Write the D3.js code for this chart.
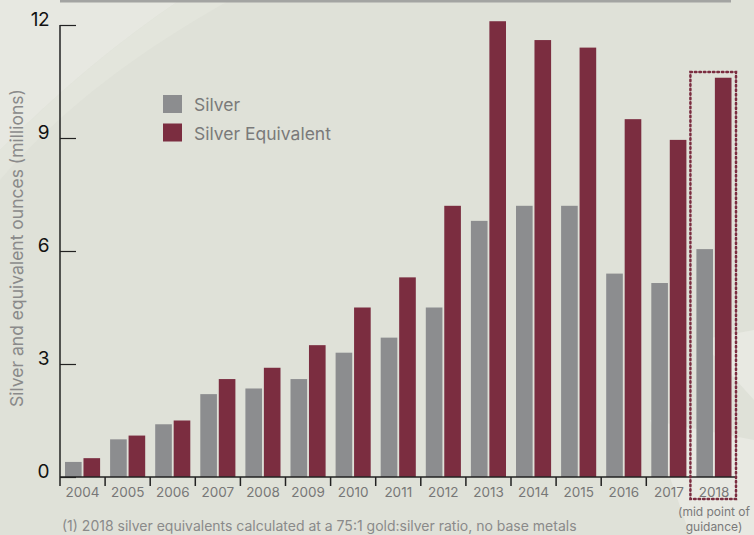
<!DOCTYPE html>
<html>
<head>
<meta charset="utf-8">
<script src="https://cdn.jsdelivr.net/npm/d3@7"></script>
<style>
  body { margin: 0; background: #dfe1d8; }
  svg { display: block; font-family: Inter, "Noto Sans", sans-serif; }
</style>
</head>
<body>
<div id="chart"></div>
<script>
// Chart data
var years = ["2004", "2005", "2006", "2007", "2008", "2009", "2010", "2011",
             "2012", "2013", "2014", "2015", "2016", "2017", "2018"];
var silver = [0.4, 1.0, 1.4, 2.2, 2.35, 2.6, 3.3, 3.7, 4.5, 6.8, 7.2, 7.2, 5.4, 5.15, 6.05];
var silverEq = [0.5, 1.1, 1.5, 2.6, 2.9, 3.5, 4.5, 5.3, 7.2, 12.1, 11.6, 11.4, 9.5, 8.95, 10.6];
var seriesNames = ["Silver", "Silver Equivalent"];
var yTicks = [0, 3, 6, 9, 12];

var width = 754, height = 535;
var colors = { "Silver": "#8c8d8f", "Silver Equivalent": "#7b2d40" };

var svg = d3.select("#chart").append("svg")
    .attr("width", width)
    .attr("height", height);

// Background with soft lighter shapes
svg.append("rect").attr("width", width).attr("height", height).attr("fill", "#dfe1d8");
svg.append("path")
    .attr("d", "M0,0 L180,0 C120,40 60,90 0,150 Z")
    .attr("fill", "#e7e8e1");
svg.append("path")
    .attr("d", "M0,150 C60,90 120,40 180,0 L230,0 C140,50 60,110 0,180 Z")
    .attr("fill", "#e3e5dc");
svg.append("path")
    .attr("d", "M754,330 L700,340 L754,400 Z M650,420 L754,440 L754,535 L690,535 Z")
    .attr("fill", "#e8e9e2");

// Top rule
svg.append("line")
    .attr("x1", 60).attr("x2", 731)
    .attr("y1", 1).attr("y2", 1)
    .attr("stroke", "#a3a4a2").attr("stroke-width", 3);

var x = d3.scaleBand().domain(years).range([60, 736.5]).padding(0);
var xs = d3.scaleBand().domain(seriesNames).range([5, x.bandwidth() - 5]).paddingInner(0.1);
var y = d3.scaleLinear().domain([0, 12]).range([477, 25]);

// Bars
var groups = svg.selectAll(".year")
    .data(years)
    .join("g")
    .attr("class", "year")
    .attr("transform", d => "translate(" + x(d) + ",0)");

groups.selectAll("rect")
    .data((d, i) => [
        { name: "Silver", value: silver[i] },
        { name: "Silver Equivalent", value: silverEq[i] }
    ])
    .join("rect")
    .attr("x", d => xs(d.name))
    .attr("width", xs.bandwidth())
    .attr("y", d => y(d.value))
    .attr("height", d => y(0) - y(d.value))
    .attr("fill", d => colors[d.name]);

// Y axis
var yAxis = svg.append("g").attr("transform", "translate(60,0)")
    .call(d3.axisRight(y).tickValues(yTicks).tickSize(16).tickFormat(""));
yAxis.select(".domain").attr("d", "M0," + y(12) + "V" + (y(0) + 9)).attr("stroke", "#222").attr("stroke-width", 1.5);
yAxis.selectAll(".tick line").attr("stroke", "#222").attr("stroke-width", 1.2);

svg.selectAll(".ylab")
    .data(yTicks)
    .join("text")
    .attr("class", "ylab")
    .attr("x", 49)
    .attr("y", d => y(d) + 1)
    .attr("text-anchor", "end")
    .attr("font-size", 19)
    .attr("letter-spacing", -0.5)
    .attr("fill", "#111")
    .text(d => d);

// X axis
var xAxis = svg.append("g").attr("transform", "translate(0," + y(0) + ")")
    .call(d3.axisBottom(x).tickSize(0).tickPadding(10));
xAxis.select(".domain").attr("d", "M60,0H736").attr("stroke", "#222").attr("stroke-width", 1.5);
xAxis.selectAll(".tick text").attr("font-size", 13.5).attr("fill", "#777")
    .attr("font-family", "Inter, sans-serif");

svg.selectAll(".xtick")
    .data(years.slice(1, 14))
    .join("line")
    .attr("class", "xtick")
    .attr("x1", d => x(d)).attr("x2", d => x(d))
    .attr("y1", y(0)).attr("y2", y(0) + 9)
    .attr("stroke", "#222").attr("stroke-width", 1.5);

// Y label
svg.append("text")
    .attr("transform", "translate(23,248) rotate(-90)")
    .attr("text-anchor", "middle")
    .attr("font-size", 17.5)
    .attr("fill", "#8a8a8a")
    .text("Silver and equivalent ounces  (millions)");

// Dotted box around 2018
svg.append("rect")
    .attr("x", x("2018") - 1)
    .attr("y", 72)
    .attr("width", x.bandwidth() + 0.5)
    .attr("height", 427)
    .attr("fill", "none")
    .attr("stroke", "#7b2d40")
    .attr("stroke-width", 2.5)
    .attr("stroke-dasharray", "1.5 3")
    .attr("stroke-linecap", "round");

// Legend
var legend = svg.selectAll(".legend")
    .data(seriesNames)
    .join("g")
    .attr("class", "legend")
    .attr("transform", (d, i) => "translate(163," + (95 + i * 28.5) + ")");
legend.append("rect")
    .attr("width", 19).attr("height", 18)
    .attr("fill", d => colors[d]);
legend.append("text")
    .attr("x", 31).attr("y", 16)
    .attr("font-size", 17.5)
    .attr("fill", "#7a7a7a")
    .text(d => d);

// Notes
svg.append("text")
    .attr("x", 714).attr("y", 516)
    .attr("text-anchor", "middle")
    .attr("font-size", 12)
    .attr("fill", "#7a7a7a")
    .text("(mid point of");
svg.append("text")
    .attr("x", 714).attr("y", 531)
    .attr("text-anchor", "middle")
    .attr("font-size", 12)
    .attr("fill", "#7a7a7a")
    .text("guidance)");
svg.append("text")
    .attr("x", 62).attr("y", 531)
    .attr("font-size", 14)
    .attr("fill", "#8a8a8a")
    .text("(1) 2018 silver equivalents calculated at a 75:1 gold:silver ratio, no base metals");
</script>
</body>
</html>
